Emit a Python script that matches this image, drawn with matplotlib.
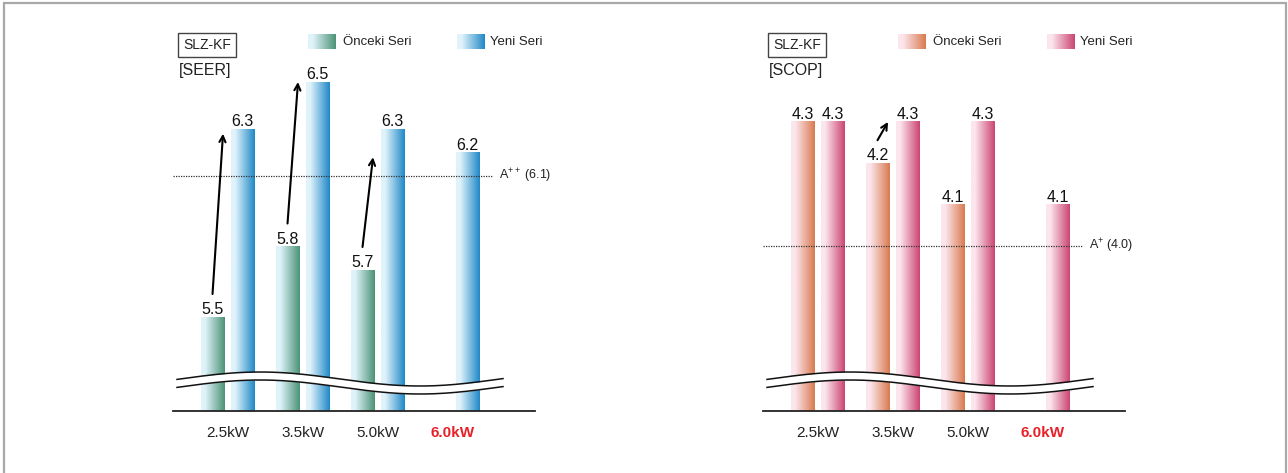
import numpy as np
import matplotlib.pyplot as plt
from matplotlib.colors import LinearSegmentedColormap
from matplotlib.patches import Rectangle

plt.rcParams['font.family'] = ['Liberation Sans', 'DejaVu Sans']
plt.rcParams['mathtext.fontset'] = 'custom'
plt.rcParams['mathtext.rm'] = 'Liberation Sans'
plt.rcParams['mathtext.it'] = 'Liberation Sans'

capacities = ["2.5kW", "3.5kW", "5.0kW", "6.0kW"]
seer_old = [5.5, 5.8, 5.7, None]
seer_new = [6.3, 6.5, 6.3, 6.2]
scop_old = [4.3, 4.2, 4.1, None]
scop_new = [4.3, 4.3, 4.3, 4.1]
seer_ref = 6.1
scop_ref = 4.0
seer_arrows = [(0, 6.28), (1, 6.5), (2, 6.18)]   # (group, value at arrow tip)
scop_arrows = [(1, 4.3)]
legend_labels = ["Önceki Seri", "Yeni Seri"]

W, H = 1288, 473
PW, PH = 362, 381          # panel size in px
BASE_Y = 411               # baseline px from top


def ramp(light, dark):
    return LinearSegmentedColormap.from_list("", [(0, light), (0.17, light), (1, dark)])


green = ramp("#dff3fa", "#4b9276")
blue = ramp("#e0f3fb", "#1f88c7")
orange = ramp("#fce6ee", "#d97a4f")
pink = ramp("#fce5ee", "#cb4470")
grad = np.linspace(0, 1, 256).reshape(1, -1)


def fx(px):
    return px / PW


def fy(py):
    return (BASE_Y - py) / PH


def draw_panel(left, old, new, ylim, cmaps, metric, ref, ref_label, arrows):
    ax = fig.add_axes([left / W, (H - BASE_Y) / H, PW / W, PH / H])
    ax.set_xlim(-0.727, 4.1)
    ax.set_ylim(*ylim)
    ppu = PH / (ylim[1] - ylim[0])
    x = np.arange(len(capacities))
    w = 0.307

    series = [([i - 0.2 for i, v in enumerate(old) if v is not None],
               [v for v in old if v is not None], cmaps[0]),
              (list(x + 0.2), new, cmaps[1])]
    for xs, vals, cmap in series:
        bars = ax.bar(xs, vals, w, color='none', edgecolor='none')
        for b, v in zip(bars, vals):
            x0 = b.get_x()
            ax.imshow(grad, cmap=cmap, aspect='auto', interpolation='bilinear',
                      extent=[x0, x0 + b.get_width(), ylim[0], v], zorder=2)
            ax.text(b.get_x() + b.get_width() / 2, v + 3 / ppu, f"{v:.1f}",
                    ha='center', va='baseline', fontsize=11.5, color='#111111', zorder=5)

    # reference line
    ax.axhline(ref, xmin=0, xmax=320 / PW, color='#333333', lw=0.9,
               ls=(0, (1, 1)), zorder=3)
    ax.text(fx(326), ref, ref_label, transform=ax.get_yaxis_transform(),
            ha='left', va='center', fontsize=9, color='#222222')

    # improvement arrows
    for g, tip in arrows:
        ax.annotate("", xy=(g + 0.2 - 0.26, tip), xytext=(g - 0.2, old[g] + 23 / ppu),
                    arrowprops=dict(arrowstyle='->', lw=1.5, color='black',
                                    mutation_scale=11, shrinkA=0, shrinkB=0), zorder=6)

    # axis break (wavy lines)
    px = np.linspace(4, 330, 300)
    upper = 379 - 7 * np.cos(2 * np.pi * (px - 87) / 320)
    lower = upper + 8
    ax.fill_between(fx(px), fy(upper), fy(lower), transform=ax.transAxes,
                    color='white', zorder=7, lw=0)
    ax.plot(fx(px), fy(upper), transform=ax.transAxes, color='#111111', lw=1.1, zorder=8)
    ax.plot(fx(px), fy(lower), transform=ax.transAxes, color='#111111', lw=1.1, zorder=8)

    # axes styling
    for s in ['top', 'right', 'left']:
        ax.spines[s].set_visible(False)
    ax.spines['bottom'].set_color('#222222')
    ax.spines['bottom'].set_linewidth(1.3)
    ax.set_yticks([])
    ax.set_xticks(x, capacities)
    ax.tick_params(axis='x', length=0, pad=11, labelsize=11, labelcolor='#222222')
    last = ax.get_xticklabels()[-1]
    last.set_color('#e8202a')
    last.set_fontweight('bold')
    ax.patch.set_alpha(0)

    # header box + metric
    ax.text(fx(34), fy(45), "SLZ-KF", transform=ax.transAxes, ha='center', va='center',
            fontsize=10, color='#222222',
            bbox=dict(boxstyle='square,pad=0.33', fc='white', ec='#444444', lw=1.0))
    ax.text(fx(6), fy(70), f"[{metric}]", transform=ax.transAxes, ha='left', va='center',
            fontsize=11.5, color='#222222')

    # legend swatches
    for (sx, tx), lab, cmap in zip([(135, 170), (284, 317)], legend_labels, cmaps):
        sw = ax.inset_axes([fx(sx), fy(49), 28 / PW, 15 / PH])
        sw.imshow(grad, cmap=cmap, aspect='auto', interpolation='bilinear')
        sw.axis('off')
        ax.text(fx(tx), fy(42), lab, transform=ax.transAxes, ha='left', va='center',
                fontsize=9.5, color='#222222')
    return ax


fig = plt.figure(figsize=(W / 100, H / 100), dpi=100)
fig.patches.append(Rectangle((4 / W, -0.05), 1282 / W, 1.05 - 3 / H, transform=fig.transFigure,
                             fill=False, ec='#a9a9a9', lw=1.6))

draw_panel(173, seer_old, seer_new, (5.1, 5.1 + PH / 235), (green, blue), "SEER",
           seer_ref, r"A$^{++}$ (6.1)", seer_arrows)
draw_panel(763, scop_old, scop_new, (3.6, 3.6 + PH / 413), (orange, pink), "SCOP",
           scop_ref, r"A$^{+}$ (4.0)", scop_arrows)

fig.savefig("out.png", dpi=100)
